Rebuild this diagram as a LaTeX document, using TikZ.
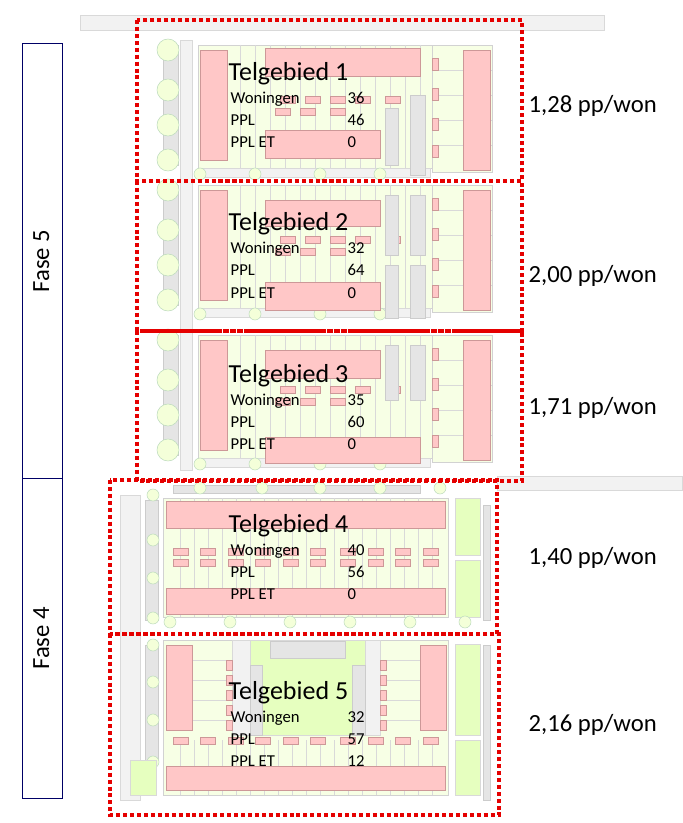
\documentclass[tikz,border=0pt]{standalone}
\usepackage{fontspec}
\setmainfont{Carlito}
\begin{document}
\begin{tikzpicture}[x=0.75pt,y=-0.75pt,
  pinkb/.style={fill=red!22, draw=red!35!gray!60, line width=0.5pt},
  plot/.style={fill=green!30!yellow!10, draw=gray!35, line width=0.4pt},
  grass/.style={fill=green!40!yellow!25, draw=gray!30, line width=0.4pt},
  park/.style={fill=gray!20, draw=gray!40, line width=0.4pt},
  road/.style={fill=gray!10, draw=gray!30, line width=0.4pt},
  tree/.style={circle, minimum size=22pt*0.75, fill=green!30!yellow!15, draw=green!30!gray!40, line width=0.4pt, inner sep=0pt},
  zone/.style={draw=red!90!black, line width=3pt, dash pattern=on 3pt off 2.2pt},
  fase/.style={draw=blue!40!black, line width=0.6pt, fill=white},
  ttl/.style={anchor=base west, font=\fontsize{19.5}{21}\selectfont},
  row/.style={anchor=base west, font=\fontsize{12.5}{14}\selectfont},
  pp/.style={anchor=west, font=\fontsize{18.5}{20}\selectfont},
  fl/.style={rotate=90, font=\fontsize{18.5}{20}\selectfont}]
\useasboundingbox (0,0) rectangle (682,823);
% roads
\fill[road] (80,15) rectangle (604,30);
\fill[road] (497,476) rectangle (682,490);
\fill[road] (180,40) rectangle (192,470);
\fill[road] (120,495) rectangle (140,800);
% --- zones 1-3 plan
\foreach \yo in {0,140,290}{
  \fill[park] (163,45+\yo) rectangle (178,165+\yo);
  \foreach \ty in {50,90,125,160} \node[tree] at (168,\ty+\yo) {};
  \fill[plot] (198,45+\yo) rectangle (432,168+\yo);
  \fill[plot] (432,45+\yo) rectangle (492,172+\yo);
  \foreach \gx in {240,255,...,420} \draw[gray!30,line width=0.3pt] (\gx,45+\yo) -- (\gx,168+\yo);
  \foreach \gy in {70,95,120,145} \draw[gray!30,line width=0.3pt] (432,\gy+\yo) -- (492,\gy+\yo);
  \fill[pinkb] (200,50+\yo) rectangle (227,160+\yo);
  \fill[pinkb] (463,50+\yo) rectangle (490,170+\yo);
  \foreach \mx in {280,305,330,355,385} \fill[pinkb] (\mx,96+\yo) rectangle (\mx+15,103+\yo);
  \foreach \mx in {275,300,330} \fill[pinkb] (\mx,108+\yo) rectangle (\mx+15,115+\yo);
  \foreach \my in {58,88,118,145} \fill[pinkb] (432,\my+\yo) rectangle (438,\my+12+\yo);
  \fill[road] (200,168+\yo) rectangle (430,177+\yo);
  \foreach \tx in {200,255,320,380} \node[tree,minimum size=9pt] at (\tx,174+\yo) {};
}
\fill[pinkb] (265,48) rectangle (420,76);
\fill[pinkb] (265,130) rectangle (380,158);
\fill[park] (385,108) rectangle (398,165);
\fill[park] (410,95) rectangle (425,175);
\fill[pinkb] (265,200) rectangle (380,226);
\fill[pinkb] (265,282) rectangle (380,310);
\fill[park] (385,195) rectangle (398,255); \fill[park] (385,265) rectangle (398,318);
\fill[park] (410,195) rectangle (425,255); \fill[park] (410,265) rectangle (425,318);
\fill[pinkb] (265,350) rectangle (380,378);
\fill[pinkb] (265,437) rectangle (420,463);
\fill[park] (385,345) rectangle (398,400); \fill[park] (410,345) rectangle (425,400);
% --- zone 4 plan
\fill[park] (173,485) rectangle (420,493);
\foreach \tx in {200,262,320,380,440} \node[tree,minimum size=9pt] at (\tx,488) {};
\fill[park] (145,500) rectangle (158,620);
\foreach \ty in {495,540,578,618} \node[tree,minimum size=9pt] at (153,\ty) {};
\fill[plot] (163,498) rectangle (448,617);
\foreach \gx in {180,194,...,440} \draw[gray!30,line width=0.3pt] (\gx,498) -- (\gx,617);
\fill[pinkb] (166,501) rectangle (445,528);
\fill[pinkb] (166,588) rectangle (445,614);
\foreach \mx in {173,200,228,255,283,310,340,368,395,423} {\fill[pinkb] (\mx,548) rectangle (\mx+15,555);\fill[pinkb] (\mx,559) rectangle (\mx+15,566);}
\fill[grass] (455,498) rectangle (480,555);
\fill[grass] (455,560) rectangle (480,617);
\fill[park] (483,505) rectangle (490,620);
\foreach \tx in {170,230,290,350,410,465} \node[tree,minimum size=9pt] at (\tx,622) {};
% --- zone 5 plan
\fill[park] (145,645) rectangle (158,760);
\foreach \ty in {645,682,720,762} \node[tree,minimum size=9pt] at (153,\ty) {};
\fill[grass] (130,760) rectangle (156,795);
\fill[plot] (163,640) rectangle (448,795);
\foreach \gy in {660,680,700,720} {\draw[gray!30,line width=0.3pt] (192,\gy) -- (232,\gy); \draw[gray!30,line width=0.3pt] (380,\gy) -- (420,\gy);}
\foreach \gx in {180,194,...,440} \draw[gray!30,line width=0.3pt] (\gx,740) -- (\gx,795);
\fill[road] (232,640) rectangle (250,735);
\fill[road] (365,640) rectangle (380,735);
\fill[grass] (250,640) rectangle (365,735);
\fill[park] (270,641) rectangle (345,658);
\fill[park] (250,665) rectangle (262,735);
\fill[park] (352,665) rectangle (365,735);
\foreach \my in {660,675,690,705,720} {\fill[pinkb] (226,\my) rectangle (232,\my+10); \fill[pinkb] (380,\my) rectangle (386,\my+10);}
\fill[pinkb] (166,645) rectangle (192,730);
\fill[pinkb] (420,645) rectangle (446,730);
\fill[pinkb] (166,766) rectangle (445,790);
\foreach \mx in {173,200,228,255,283,310,340,368,395,423} \fill[pinkb] (\mx,737) rectangle (\mx+15,744);
\fill[grass] (455,644) rectangle (480,735);
\fill[grass] (455,740) rectangle (480,795);
\fill[park] (483,645) rectangle (490,800);
% --- fase boxes
\node[fase, minimum width=40pt*0.75, minimum height=435pt*0.75, anchor=north west] (f5) at (22,43) {};
\node[fl] (f5t) at ([xshift=-1pt*0.75]f5.center) {Fase 5};
\node[fase, minimum width=40pt*0.75, minimum height=320pt*0.75, anchor=north west] (f4) at (22,478) {};
\node[fl] (f4t) at ([xshift=-1pt*0.75]f4.center) {Fase 4};
% --- zones
\draw[zone] (137,20) rectangle (522,181);
\draw[zone] (137,181) rectangle (522,331);
\draw[zone] (137,331) rectangle (522,481);
\draw[zone] (110,480) rectangle (497,634);
\draw[zone] (110,634) rectangle (499,815);
% --- texts
\foreach \n/\y/\w/\p/\e in {1/81/36/46/0, 2/231/32/64/0, 3/382/35/60/0, 4/532/40/56/0, 5/699/32/57/12}{
  \node[ttl] (t\n) at (224,\y) {Telgebied \n};
  \node[row] (w\n) at (226,\y+23) {Woningen};
  \node[row] (p\n) at (226,\y+45) {PPL};
  \node[row] (e\n) at (226,\y+67) {PPL ET};
  \node[row] (wv\n) at (343,\y+23) {\w};
  \node[row] (pv\n) at (343,\y+45) {\p};
  \node[row] (ev\n) at (343,\y+67) {\e};
}
\node[pp] (r1) at (524,106) {1,28 pp/won};
\node[pp] (r2) at (524,276) {2,00 pp/won};
\node[pp] (r3) at (524,408) {1,71 pp/won};
\node[pp] (r4) at (524,558) {1,40 pp/won};
\node[pp] (r5) at (524,725) {2,16 pp/won};
\end{tikzpicture}
\end{document}
